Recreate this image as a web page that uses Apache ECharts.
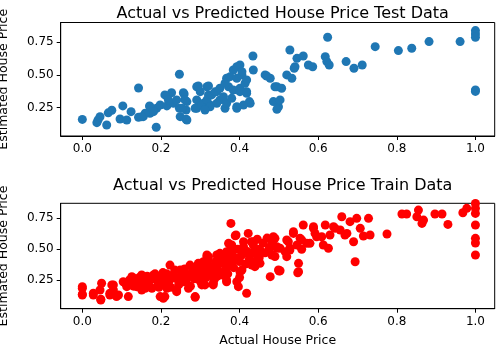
<!DOCTYPE html>
<html>
<head>
<meta charset="utf-8">
<script src="https://cdn.jsdelivr.net/npm/echarts@6/dist/echarts.min.js"></script>
<style>html,body{margin:0;padding:0;background:#fff;}#c{width:500px;height:349px;}</style>
</head>
<body>
<div id="c"></div>
<script>
const titles = ["Actual vs Predicted House Price Test Data", "Actual vs Predicted House Price Train Data"];
const xAxisName = "Actual House Price";
const yAxisName = "Estimated House Price";
const xTicks = [0, 0.2, 0.4, 0.6, 0.8, 1.0];
const yTicks = [0.25, 0.5, 0.75];

// [actual, predicted]
const testData = [
[0.00,0.16],[0.04,0.155],[0.037,0.135],[0.062,0.117],[0.045,0.18],[0.066,0.21],[0.075,0.23],[0.103,0.263],[0.096,0.163],[0.113,0.155],
[0.124,0.219],[0.143,0.40],[0.143,0.176],[0.155,0.181],[0.171,0.263],[0.172,0.207],[0.188,0.10],[0.189,0.245],[0.198,0.27],[0.215,0.339],
[0.227,0.364],[0.215,0.263],[0.232,0.283],[0.247,0.505],[0.249,0.181],[0.264,0.161],[0.259,0.354],[0.266,0.296],[0.264,0.232],[0.240,0.309],
[0.247,0.245],[0.210,0.347],[0.219,0.309],[0.172,0.257],[0.160,0.207],[0.181,0.219],[0.151,0.181],[0.257,0.364],[0.261,0.309],[0.253,0.245],
[0.266,0.155],[0.291,0.41],[0.291,0.245],[0.30,0.372],[0.317,0.41],[0.321,0.347],[0.308,0.283],[0.325,0.27],[0.342,0.372],[0.35,0.309],
[0.363,0.245],[0.367,0.475],[0.372,0.41],[0.384,0.538],[0.393,0.257],[0.401,0.576],[0.406,0.50],[0.401,0.398],[0.414,0.436],[0.418,0.372],
[0.425,0.296],[0.434,0.645],[0.435,0.538],[0.465,0.50],[0.478,0.475],[0.49,0.41],[0.486,0.296],[0.499,0.257],[0.295,0.416],[0.321,0.416],
[0.291,0.309],[0.287,0.245],[0.304,0.27],[0.317,0.309],[0.329,0.347],[0.338,0.372],[0.35,0.398],[0.363,0.436],[0.359,0.334],[0.367,0.283],
[0.342,0.283],[0.325,0.257],[0.312,0.232],[0.376,0.487],[0.393,0.563],[0.406,0.525],[0.393,0.475],[0.418,0.462],[0.384,0.385],[0.401,0.372],
[0.418,0.36],[0.427,0.283],[0.41,0.27],[0.38,0.321],[0.393,0.245],[0.469,0.492],[0.495,0.41],[0.507,0.398],[0.503,0.309],[0.495,0.237],
[0.520,0.50],[0.533,0.475],[0.541,0.563],[0.546,0.627],[0.562,0.645],[0.528,0.691],[0.575,0.576],[0.586,0.563],[0.539,0.551],[0.624,0.788],
[0.618,0.64],[0.622,0.602],[0.628,0.576],[0.671,0.602],[0.691,0.551],[0.712,0.576],[0.745,0.716],[0.804,0.686],[0.838,0.704],[0.882,0.755],
[0.961,0.755],[1.0,0.839],[1.0,0.813],[1.0,0.788],[1.0,0.385],[1.0,0.374]
];

const trainData = [
[0.0,0.183],[0.0,0.128],[0.028,0.128],[0.047,0.094],[0.049,0.223],[0.045,0.169],[0.075,0.21],[0.07,0.128],[0.087,0.115],[0.079,0.169],
[0.104,0.236],[0.117,0.115],[0.113,0.196],[0.13,0.264],[0.138,0.196],[0.155,0.236],[0.151,0.169],[0.172,0.264],[0.177,0.183],[0.198,0.115],
[0.206,0.102],[0.193,0.223],[0.215,0.183],[0.223,0.371],[0.223,0.277],[0.24,0.155],[0.249,0.331],[0.257,0.236],[0.27,0.183],[0.287,0.11],
[0.282,0.331],[0.295,0.385],[0.304,0.277],[0.317,0.453],[0.321,0.358],[0.333,0.223],[0.35,0.466],[0.346,0.317],[0.363,0.371],[0.367,0.25],
[0.376,0.534],[0.378,0.709],[0.391,0.615],[0.384,0.412],[0.401,0.317],[0.397,0.196],[0.418,0.142],[0.41,0.466],[0.422,0.628],[0.435,0.534],
[0.444,0.453],[0.431,0.371],[0.452,0.493],[0.478,0.277],[0.482,0.453],[0.482,0.56],[0.499,0.331],[0.495,0.507],
[0.503,0.325],[0.55,0.385],[0.55,0.317],[0.486,0.601],[0.495,0.52],[0.516,0.479],[0.52,0.439],[0.524,0.56],[0.537,0.628],[0.528,0.507],
[0.558,0.574],[0.562,0.696],[0.558,0.499],[0.579,0.547],[0.588,0.682],[0.592,0.628],[0.613,0.534],[0.626,0.507],[0.618,0.696],[0.609,0.601],
[0.639,0.682],[0.66,0.763],[0.656,0.655],[0.668,0.615],[0.681,0.723],[0.698,0.75],[0.69,0.56],[0.694,0.398],[0.707,0.669],[0.715,0.607],
[0.728,0.75],[0.732,0.615],[0.775,0.623],[0.813,0.785],[0.825,0.785],[0.855,0.817],[0.851,0.763],[0.868,0.736],[0.864,0.709],[0.897,0.785],
[0.915,0.785],[0.93,0.701],[0.968,0.795],[0.978,0.831],[1.0,0.871],[1.0,0.831],[1.0,0.79],[1.0,0.696],[1.0,0.588],[1.0,0.55],[1.0,0.453],
[0.389,0.609],[0.41,0.56],[0.435,0.56],[0.444,0.493],[0.448,0.453],[0.452,0.385],[0.439,0.358],[0.38,0.534],[0.376,0.453],[0.363,0.412],
[0.35,0.453],[0.321,0.439],[0.308,0.398],[0.325,0.331],[0.342,0.277],[0.367,0.236],[0.393,0.236],[0.406,0.331],[0.333,0.21],[0.312,0.21],
[0.478,0.52],[0.49,0.588],[0.503,0.507],[0.52,0.574],[0.528,0.493],[0.537,0.642],[0.554,0.588],[0.546,0.534],[0.571,0.547],[0.588,0.669],
[0.596,0.601],[0.63,0.615],[0.643,0.669],[0.673,0.628],[0.501,0.323],[0.548,0.309],
[0.0,0.196],[0.0,0.134],[0.028,0.142],[0.047,0.088],[0.07,0.142],[0.079,0.21],[0.092,0.128],[0.126,0.277],[0.138,0.21],[0.151,0.29],
[0.16,0.183],[0.172,0.25],[0.181,0.29],[0.21,0.115],[0.215,0.21],[0.227,0.264],[0.24,0.169],[0.274,0.371],[0.287,0.29],[0.287,0.115],
[0.304,0.21],[0.317,0.439],[0.317,0.29],[0.325,0.345],[0.342,0.453],[0.346,0.385],[0.359,0.29],[0.367,0.479],[0.372,0.547],
[0.11,0.22],[0.12,0.25],[0.13,0.2],[0.14,0.24],[0.145,0.27],[0.15,0.21],[0.16,0.24],[0.165,0.28],[0.17,0.2],[0.18,0.26],
[0.185,0.3],[0.19,0.25],[0.195,0.19],[0.2,0.28],[0.2,0.22],[0.205,0.31],[0.21,0.26],[0.215,0.3],[0.22,0.24],[0.225,0.19],
[0.23,0.29],[0.235,0.33],[0.24,0.26],[0.245,0.21],[0.25,0.28],[0.255,0.3],[0.26,0.34],[0.265,0.25],[0.27,0.29],[0.275,0.2],
[0.28,0.32],[0.285,0.26],[0.29,0.35],[0.295,0.3],[0.3,0.24],[0.305,0.33],[0.31,0.37],[0.315,0.27],[0.32,0.41],[0.325,0.3],
[0.33,0.36],[0.335,0.25],[0.34,0.4],[0.345,0.33],[0.35,0.29],[0.355,0.39],[0.36,0.43],[0.365,0.34],[0.37,0.3],[0.375,0.38],
[0.38,0.47],[0.385,0.35],[0.39,0.43],[0.395,0.5],[0.4,0.4],[0.4,0.27],[0.405,0.45],[0.41,0.52],[0.415,0.38],[0.42,0.48],
[0.425,0.42],[0.43,0.56],[0.435,0.47],[0.44,0.4],[0.445,0.58],[0.45,0.5],[0.45,0.43],[0.46,0.55],[0.465,0.47],[0.47,0.59],
[0.475,0.5],[0.485,0.57],[0.49,0.44]
];

const FONT = 'DejaVu Sans';
const gridL = 60.7, gridW = 434;
const grids = [
  {left: gridL, top: 22.5, width: gridW, height: 113.5},
  {left: gridL, top: 203.3, width: gridW, height: 105.4}
];
const yRanges = [[0.033, 0.901], [0.017, 0.872]];

function xAx(i) {
  return {
    type: 'value', gridIndex: i, min: -0.055, max: 1.049,
    name: i === 1 ? xAxisName : '', nameLocation: 'middle', nameGap: 26,
    nameTextStyle: {fontFamily: FONT, fontSize: 12.5, color: '#000'},
    axisLine: {show: true, onZero: false, lineStyle: {color: '#000', width: 1}},
    axisTick: {show: true, length: 4, lineStyle: {color: '#000'}, customValues: xTicks},
    axisLabel: {fontFamily: FONT, fontSize: 12, color: '#000', margin: 7, customValues: xTicks,
      formatter: v => v.toFixed(1)},
    splitLine: {show: false}
  };
}
function yAx(i) {
  return {
    type: 'value', gridIndex: i, min: yRanges[i][0], max: yRanges[i][1],
    name: yAxisName, nameLocation: 'middle', nameGap: 50, nameRotate: 90,
    nameTextStyle: {fontFamily: FONT, fontSize: 12.5, color: '#000'},
    axisLine: {show: true, onZero: false, lineStyle: {color: '#000', width: 1}},
    axisTick: {show: true, length: 4, lineStyle: {color: '#000'}, customValues: yTicks},
    axisLabel: {fontFamily: FONT, fontSize: 12, color: '#000', margin: 7, customValues: yTicks,
      formatter: v => v.toFixed(2)},
    splitLine: {show: false}
  };
}

const chart = echarts.init(document.getElementById('c'), null, {renderer: 'canvas'});
chart.setOption({
  animation: false,
  backgroundColor: '#fff',
  title: [
    {text: titles[0], left: gridL + gridW / 2, textAlign: 'center', top: 1,
      textStyle: {fontFamily: FONT, fontSize: 16, fontWeight: 'normal', color: '#000'}},
    {text: titles[1], left: gridL + gridW / 2, textAlign: 'center', top: 173,
      textStyle: {fontFamily: FONT, fontSize: 16, fontWeight: 'normal', color: '#000'}}
  ],
  grid: grids.map(g => Object.assign({show: true, borderColor: '#000', borderWidth: 1, backgroundColor: '#fff',
    containLabel: false, outerBoundsMode: 'none'}, g)),
  xAxis: [xAx(0), xAx(1)],
  yAxis: [yAx(0), yAx(1)],
  series: [
    {type: 'scatter', xAxisIndex: 0, yAxisIndex: 0, data: testData, symbolSize: 9,
      itemStyle: {color: '#1f77b4', opacity: 1}},
    {type: 'scatter', xAxisIndex: 1, yAxisIndex: 1, data: trainData, symbolSize: 9,
      itemStyle: {color: '#ff0000', opacity: 1}}
  ]
});
</script>
</body>
</html>
